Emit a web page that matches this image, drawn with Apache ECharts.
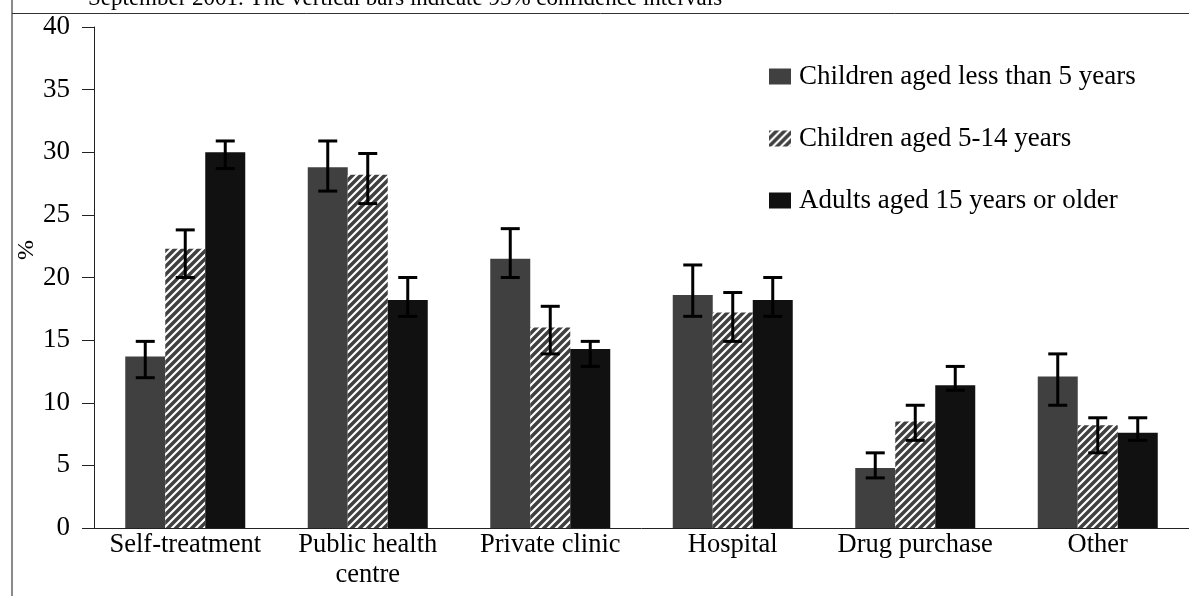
<!DOCTYPE html>
<html>
<head>
<meta charset="utf-8">
<script src="https://cdn.jsdelivr.net/npm/echarts@6/dist/echarts.min.js"></script>
<style>
html,body{margin:0;padding:0;background:#fff;}
#chart{width:1189px;height:596px;}
</style>
</head>
<body>
<div id="chart"></div>
<script>
// ---- data ----
const categories = ['Self-treatment', 'Public health\ncentre', 'Private clinic', 'Hospital', 'Drug purchase', 'Other'];
const seriesNames = ['Children aged less than 5 years', 'Children aged 5-14 years', 'Adults aged 15 years or older'];
const under5 = [13.7, 28.8, 21.5, 18.6, 4.8, 12.1];
const under5Low = [12.0, 26.9, 20.0, 16.9, 4.0, 9.8];
const under5High = [14.9, 30.9, 23.9, 21.0, 6.0, 13.9];
const age5to14 = [22.3, 28.2, 16.0, 17.2, 8.5, 8.2];
const age5to14Low = [20.0, 25.9, 13.9, 14.9, 7.0, 6.0];
const age5to14High = [23.8, 29.9, 17.7, 18.8, 9.8, 8.8];
const adults = [30.0, 18.2, 14.3, 18.2, 11.4, 7.6];
const adultsLow = [28.7, 16.9, 12.9, 16.9, 11.0, 7.0];
const adultsHigh = [30.9, 20.0, 14.9, 20.0, 12.9, 8.8];
const yTicks = [0, 5, 10, 15, 20, 25, 30, 35, 40];

// ---- styling ----
const FONT = 'Liberation Serif';
const BAR_W = 40;

function makeHatch() {
  const c = document.createElement('canvas');
  c.width = 8; c.height = 8;
  const g = c.getContext('2d');
  g.fillStyle = '#ffffff'; g.fillRect(0, 0, 8, 8);
  g.strokeStyle = '#404040'; g.lineWidth = 3.5;
  g.beginPath();
  g.moveTo(-2, 10); g.lineTo(10, -2);
  g.moveTo(-6, 6); g.lineTo(6, -6);
  g.moveTo(2, 14); g.lineTo(14, 2);
  g.stroke();
  return c;
}
const hatch = { image: makeHatch(), repeat: 'repeat' };

const colors = ['#404040', hatch, '#111111'];
const values = [under5, age5to14, adults];
const lows = [under5Low, age5to14Low, adultsLow];
const highs = [under5High, age5to14High, adultsHigh];

const barSeries = seriesNames.map((n, i) => ({
  type: 'bar',
  name: n,
  data: values[i],
  barWidth: BAR_W,
  barGap: '0%',
  itemStyle: { color: colors[i] },
  silent: true,
  z: 2
}));

function errSeries(idx) {
  return {
    type: 'custom',
    name: 'ci' + idx,
    silent: true,
    z: 10,
    encode: { x: 0, y: [1, 2] },
    data: categories.map((c, i) => [i, lows[idx][i], highs[idx][i]]),
    renderItem(params, api) {
      const ci = api.value(0);
      const lo = api.coord([ci, api.value(1)]);
      const hi = api.coord([ci, api.value(2)]);
      const x = lo[0] + (idx - 1) * BAR_W;
      const hw = 9.5;
      const st = { stroke: '#000', lineWidth: 3 };
      return {
        type: 'group',
        children: [
          { type: 'line', shape: { x1: x, y1: lo[1], x2: x, y2: hi[1] }, style: st },
          { type: 'line', shape: { x1: x - hw, y1: hi[1], x2: x + hw, y2: hi[1] }, style: st },
          { type: 'line', shape: { x1: x - hw, y1: lo[1], x2: x + hw, y2: lo[1] }, style: st }
        ]
      };
    }
  };
}

const chart = echarts.init(document.getElementById('chart'), null, { renderer: 'canvas' });
chart.setOption({
  animation: false,
  backgroundColor: '#ffffff',
  textStyle: { fontFamily: FONT },
  grid: { left: 94, right: -3, top: 27, bottom: 68, containLabel: false },
  legend: {
    data: seriesNames,
    orient: 'vertical',
    left: 769,
    top: 63,
    padding: 0,
    itemWidth: 22,
    itemHeight: 16,
    itemGap: 35,
    icon: 'rect',
    selectedMode: false,
    textStyle: { fontFamily: FONT, fontSize: 27, color: '#000', lineHeight: 26, padding: [0, 0, 0, 3] }
  },
  xAxis: {
    type: 'category',
    data: categories,
    boundaryGap: true,
    axisLine: { lineStyle: { color: '#222', width: 1 } },
    axisTick: { length: 8, lineStyle: { color: '#222' } },
    axisLabel: { fontFamily: FONT, fontSize: 26.5, color: '#000', margin: 2, lineHeight: 30, interval: 0 }
  },
  yAxis: {
    type: 'value',
    min: yTicks[0],
    max: yTicks[yTicks.length - 1],
    interval: 5,
    splitLine: { show: false },
    axisLine: { show: true, lineStyle: { color: '#222', width: 1 } },
    axisTick: { show: true, length: 12, lineStyle: { color: '#222' } },
    axisLabel: { fontFamily: FONT, fontSize: 27, color: '#000', margin: 24, padding: [4, 0, 0, 0] }
  },
  graphic: [
    { type: 'line', shape: { x1: 12, y1: 0, x2: 12, y2: 596 }, style: { stroke: '#8a8a8a', lineWidth: 2 } },
    { type: 'line', shape: { x1: 12, y1: 13.5, x2: 1189, y2: 13.5 }, style: { stroke: '#333', lineWidth: 1 } },
    { type: 'text', x: 88, y: -1, style: { text: 'September 2001. The vertical bars indicate 95% confidence intervals', font: '23px "Liberation Serif"', fill: '#000', verticalAlign: 'middle' } },
    { type: 'text', x: 27, y: 250, rotation: Math.PI / 2, style: { text: '%', font: '24px "Liberation Serif"', fill: '#000', align: 'center', verticalAlign: 'middle' } }
  ],
  series: [...barSeries, errSeries(0), errSeries(1), errSeries(2)]
});
</script>
</body>
</html>
